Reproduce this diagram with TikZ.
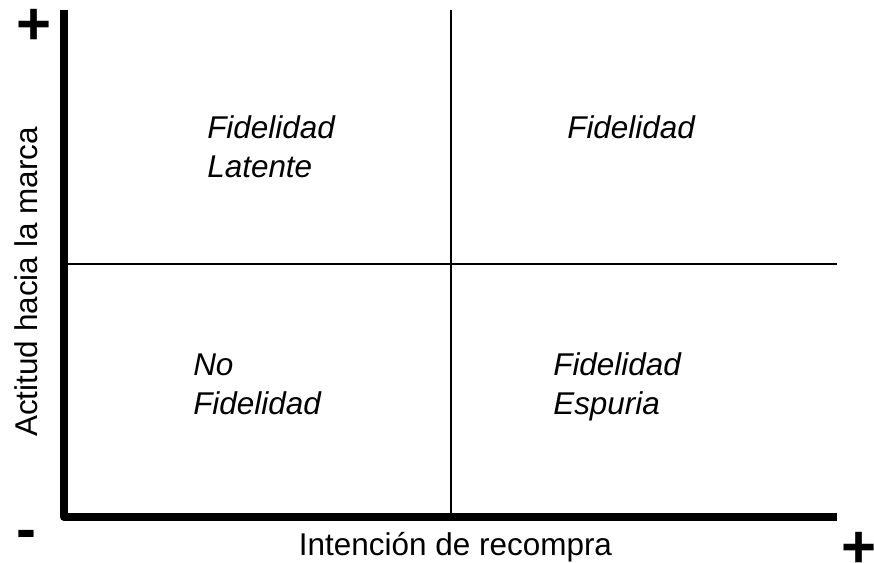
\documentclass[tikz,border=0pt]{standalone}
\usepackage{fontspec}
\setmainfont{Liberation Sans}
\usetikzlibrary{positioning}
\tikzset{x=0.75pt, y=-0.75pt, % One unit is one pixel of the sketch, y grows downwards
axis/.style={ % The two thick axes
line width=6pt,
line join=round},
divider/.style={ % Thin lines between the quadrants
line width=1.2pt},
quadrant/.style={ % Names of the four quadrants, placed by the baseline of their last line
anchor=base west,
align=left,
inner sep=0pt,
font=\fontsize{23.6}{29}\selectfont\itshape},
axislabel/.style={ % Titles of the axes
anchor=base,
inner sep=0pt,
font=\fontsize{23.6}{29}\selectfont},
signo/.style={ % Plus and minus at the axis ends
anchor=base,
inner sep=0pt,
font=\fontsize{45}{54}\selectfont\bfseries}}

\begin{document}
\begin{tikzpicture}
	\useasboundingbox (0,0) rectangle (874,562);
	\coordinate (O) at (64,517);
	\coordinate (ytop) at (64,10);
	\coordinate (xend) at (837,517);
	\coordinate (vtop) at (451,10);
	\coordinate (vbot) at (451,517);
	\coordinate (hleft) at (64,264);
	\coordinate (hright) at (837,264);

	% quadrant lines
	\draw[divider] (vtop) -- (vbot);
	\draw[divider] (hleft) -- (hright);
	% axes
	\draw[axis] (ytop) -- (O) -- (xend);

	\node[quadrant] (latente) at (207,177) {Fidelidad\\Latente};
	\node[quadrant] (fiel) at (567,138) {Fidelidad};
	\node[quadrant] (nofiel) at (193,414) {No\\Fidelidad};
	\node[quadrant] (espuria) at (553,414) {Fidelidad\\Espuria};

	\node[axislabel] (xlabel) at (455.5,555) {Intención de recompra};
	\node[axislabel, rotate=90] (ylabel) at (37,282) {Actitud hacia la marca};

	\node[signo] (ymas) at (34,44) {+};
	\node[signo] (ymenos) at (26.5,549) {-};
	\node[signo] (xmas) at (859.5,567) {+};
\end{tikzpicture}
\end{document}
